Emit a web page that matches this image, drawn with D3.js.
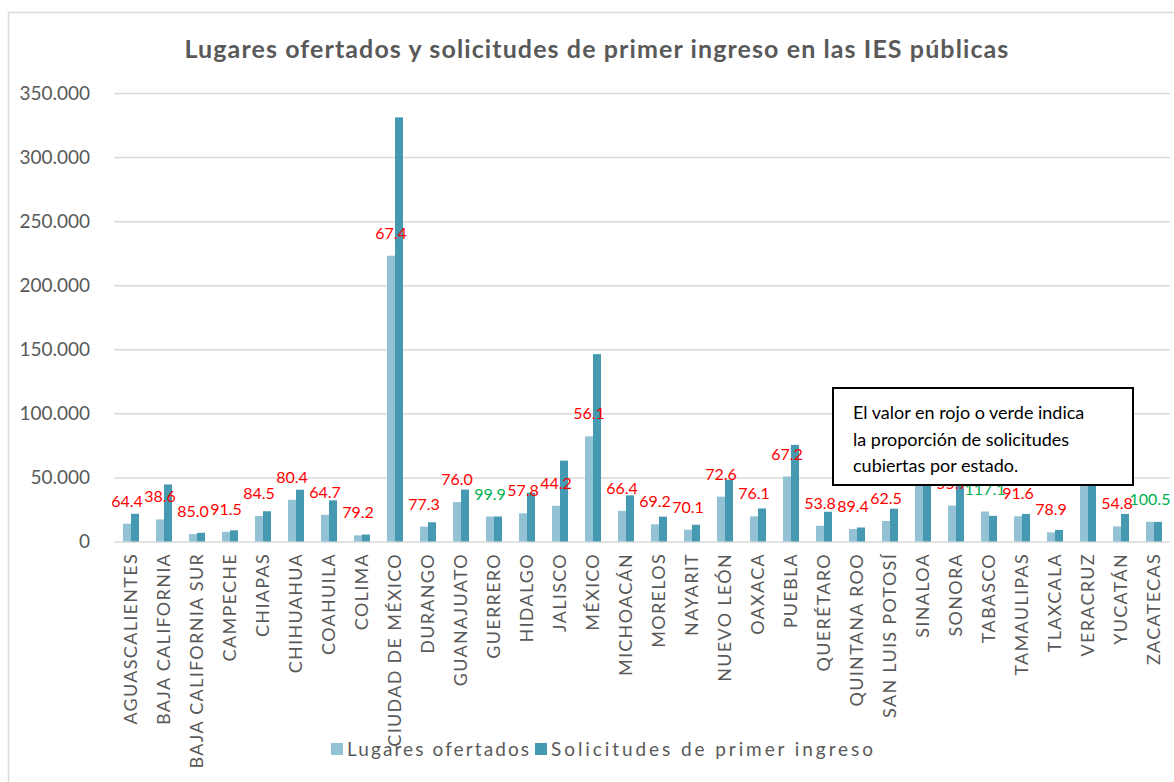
<!DOCTYPE html>
<html lang="es">
<head>
<meta charset="UTF-8">
<title>Lugares ofertados y solicitudes de primer ingreso</title>
<script src="https://d3js.org/d3.v7.min.js"></script>
<style>
    body { margin: 0; background: #ffffff; }
    svg { display: block; font-family: Lato, "Open Sans", sans-serif; }
</style>
</head>
<body>
<svg id="chart" width="1174" height="782"></svg>
<script>
    // Estados
    const states = ["AGUASCALIENTES", "BAJA CALIFORNIA", "BAJA CALIFORNIA SUR", "CAMPECHE", "CHIAPAS",
        "CHIHUAHUA", "COAHUILA", "COLIMA", "CIUDAD DE MÉXICO", "DURANGO", "GUANAJUATO", "GUERRERO",
        "HIDALGO", "JALISCO", "MÉXICO", "MICHOACÁN", "MORELOS", "NAYARIT", "NUEVO LEÓN", "OAXACA",
        "PUEBLA", "QUERÉTARO", "QUINTANA ROO", "SAN LUIS POTOSÍ", "SINALOA", "SONORA", "TABASCO",
        "TAMAULIPAS", "TLAXCALA", "VERACRUZ", "YUCATÁN", "ZACATECAS"];

    // Lugares ofertados
    const lugares = [13900, 17200, 5800, 7500, 19900, 32500, 20800, 4800, 223000, 11600, 30800, 19500,
        22000, 27900, 82000, 23900, 13400, 9200, 35000, 19600, 50700, 12300, 9700, 16000, 46000,
        28000, 23400, 19700, 7100, 47000, 11800, 15400];

    // Solicitudes de primer ingreso
    const solicitudes = [21600, 44500, 6800, 8700, 23600, 40400, 32100, 5400, 331000, 15000, 40500, 19500,
        38100, 63100, 146200, 36000, 19400, 13100, 48200, 25800, 75400, 23200, 10900, 25600, 48000,
        50300, 20000, 21500, 9000, 51000, 21500, 15300];

    // Proporción de solicitudes cubiertas (%)
    const cubiertas = [64.4, 38.6, 85.0, 91.5, 84.5, 80.4, 64.7, 79.2, 67.4, 77.3, 76.0, 99.9,
        57.8, 44.2, 56.1, 66.4, 69.2, 70.1, 72.6, 76.1, 67.2, 53.8, 89.4, 62.5, 95.8,
        55.7, 117.1, 91.6, 78.9, 92.2, 54.8, 100.5];

    const yTicks = [0, 50000, 100000, 150000, 200000, 250000, 300000, 350000];
    const seriesNames = ["Lugares ofertados", "Solicitudes de primer ingreso"];
    const colors = ["#92c2d4", "#4599b1"];

    const data = states.map((s, i) => ({ state: s, values: [lugares[i], solicitudes[i]], pct: cubiertas[i] }));

    const svg = d3.select("#chart");
    const grey = "#595959";

    // chart border
    svg.append("rect")
        .attr("x", 8.5).attr("y", 12.5).attr("width", 1180).attr("height", 790)
        .attr("fill", "#fff").attr("stroke", "#d9d9d9").attr("stroke-width", 1.5);

    svg.append("text")
        .attr("x", 597).attr("y", 58)
        .attr("text-anchor", "middle")
        .attr("font-size", 25).attr("font-weight", "bold")
        .attr("letter-spacing", 1.1)
        .attr("fill", grey)
        .text("Lugares ofertados y solicitudes de primer ingreso en las IES públicas");

    const x0 = d3.scaleBand().domain(states).range([114.5, 1170.5]);
    const x1 = d3.scaleBand().domain([0, 1]).range([x0.bandwidth() / 2 - 8, x0.bandwidth() / 2 + 8]);
    const y = d3.scaleLinear().domain([0, 350000]).range([541.5, 93]);

    const fmt = d3.formatLocale({ decimal: ",", thousands: ".", grouping: [3], currency: ["$", ""] }).format(",");

    // grid + y axis
    const yAxis = d3.axisLeft(y).tickValues(yTicks).tickFormat(fmt)
        .tickSize(-(1170 - 114)).tickPadding(24);
    const gy = svg.append("g").attr("transform", "translate(114,0)").call(yAxis);
    gy.select(".domain").remove();
    gy.selectAll(".tick line").attr("stroke", "#d9d9d9").attr("stroke-width", 1.5);
    gy.selectAll(".tick text").attr("font-size", 19).attr("fill", grey)
        .attr("font-family", "Lato, sans-serif");

    // bars
    const groups = svg.append("g").selectAll("g")
        .data(data).enter().append("g")
        .attr("transform", d => `translate(${x0(d.state)},0)`);

    groups.selectAll("rect")
        .data(d => d.values.map((v, k) => ({ k, v })))
        .enter().append("rect")
        .attr("x", d => x1(d.k))
        .attr("y", d => y(d.v))
        .attr("width", x1.bandwidth())
        .attr("height", d => y(0) - y(d.v))
        .attr("fill", d => colors[d.k]);

    // x labels
    svg.append("g").selectAll("text")
        .data(states).enter().append("text")
        .attr("transform", d => `translate(${x0(d) + x0.bandwidth() / 2},553) rotate(-90)`)
        .attr("dy", "0.35em")
        .attr("text-anchor", "end")
        .attr("font-size", 18)
        .attr("letter-spacing", 1.3)
        .attr("fill", grey)
        .text(d => d);

    // proportion labels above the light bar
    svg.append("g").selectAll("text")
        .data(data).enter().append("text")
        .attr("x", d => x0(d.state) + x1(0) + x1.bandwidth() / 2)
        .attr("y", d => y(d.values[0]) - 17)
        .attr("text-anchor", "middle")
        .attr("font-size", 16)
        .attr("fill", d => d.pct >= 99 ? "#00b050" : "#ff0000")
        .text(d => d.pct.toFixed(1));

    // legend
    const legend = svg.append("g");
    const legX = [331, 535];
    const legW = [182, 322];
    seriesNames.forEach((name, k) => {
        legend.append("rect")
            .attr("x", legX[k]).attr("y", 743).attr("width", 12).attr("height", 12)
            .attr("fill", colors[k]);
        legend.append("text")
            .attr("x", legX[k] + 16).attr("y", 749).attr("dy", "0.35em")
            .attr("font-size", 19)
            .attr("textLength", legW[k]).attr("lengthAdjust", "spacing")
            .attr("fill", grey)
            .text(name);
    });

    // note box
    const note = svg.append("g");
    note.append("rect")
        .attr("x", 833).attr("y", 388).attr("width", 300).attr("height", 97)
        .attr("fill", "#fff").attr("stroke", "#000").attr("stroke-width", 2);
    ["El valor en rojo o verde indica", "la proporción de solicitudes", "cubiertas por estado."]
        .forEach((line, i) => {
            note.append("text")
                .attr("x", 853).attr("y", 419 + i * 26.5)
                .attr("font-size", 18).attr("fill", "#000")
                .text(line);
        });
</script>
</body>
</html>
